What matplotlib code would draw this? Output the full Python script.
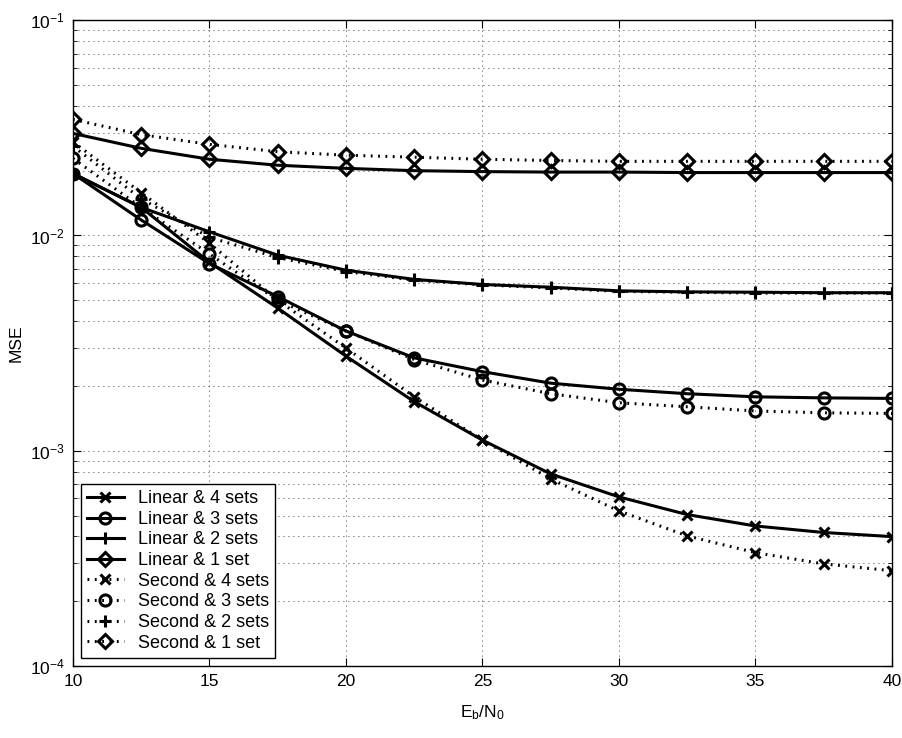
import matplotlib
matplotlib.use('Agg')

import matplotlib.pyplot as plt
from matplotlib.ticker import LogLocator, NullFormatter

plt.rcParams['font.family'] = ['Liberation Sans', 'DejaVu Sans']

# Eb/N0 (dB)
ebn0 = [10, 12.5, 15, 17.5, 20, 22.5, 25, 27.5, 30, 32.5, 35, 37.5, 40]

# MSE
linear_4 = [0.0194, 0.0135, 0.0075, 0.0046, 0.00275, 0.00169, 0.00112, 0.00078,
            0.00061, 0.000505, 0.000447, 0.000417, 0.000399]
linear_3 = [0.0194, 0.0118, 0.0074, 0.0052, 0.0036, 0.0027, 0.00233, 0.00206,
            0.00193, 0.00184, 0.00178, 0.00176, 0.00175]
linear_2 = [0.0194, 0.0135, 0.0104, 0.0081, 0.0069, 0.00625, 0.00592, 0.00575,
            0.00553, 0.00547, 0.00545, 0.00542, 0.00542]
linear_1 = [0.0298, 0.0254, 0.0226, 0.0212, 0.0205, 0.0200, 0.0198, 0.0197,
            0.0197, 0.0196, 0.0196, 0.0196, 0.0196]
second_4 = [0.0272, 0.0158, 0.0092, 0.0050, 0.0030, 0.00178, 0.00112, 0.00074,
            0.000525, 0.000402, 0.000336, 0.000298, 0.000277]
second_3 = [0.0228, 0.0135, 0.0082, 0.0050, 0.0036, 0.00265, 0.00213, 0.00184,
            0.00167, 0.00160, 0.00153, 0.00150, 0.00149]
second_2 = [0.026, 0.0148, 0.0098, 0.0079, 0.0068, 0.0062, 0.0059, 0.0057,
            0.0055, 0.00545, 0.0054, 0.0054, 0.0054]
second_1 = [0.0346, 0.0294, 0.0265, 0.0245, 0.0236, 0.0231, 0.0226, 0.0223,
            0.0221, 0.0221, 0.0221, 0.0221, 0.0221]

labels = ['Linear & 4 sets', 'Linear & 3 sets', 'Linear & 2 sets', 'Linear & 1 set',
          'Second & 4 sets', 'Second & 3 sets', 'Second & 2 sets', 'Second & 1 set']

fig = plt.figure(figsize=(9.03, 7.38), dpi=100)
ax = fig.add_axes([0.0808, 0.0976, 0.907, 0.875])

dotted = (0, (0.6, 1.8))
series = [
    (linear_4, 'x', '-'), (linear_3, 'o', '-'), (linear_2, '+', '-'), (linear_1, 'D', '-'),
    (second_4, 'x', dotted), (second_3, 'o', dotted), (second_2, '+', dotted), (second_1, 'D', dotted),
]
for (vals, mk, ls), lab in zip(series, labels):
    ms = {'x': 6.5, 'o': 8, '+': 9, 'D': 7.5}[mk]
    ax.semilogy(ebn0, vals, color='black', linestyle=ls, linewidth=2.2,
                marker=mk, markersize=ms, markeredgewidth=2.2,
                markerfacecolor='none', markeredgecolor='black', label=lab)

ax.set_xlim(10, 40)
ax.set_ylim(1e-4, 1e-1)
ax.set_xticks([10, 15, 20, 25, 30, 35, 40])
ax.yaxis.set_minor_locator(LogLocator(base=10, subs=range(2, 10)))
ax.yaxis.set_minor_formatter(NullFormatter())

ax.grid(True, which='major', axis='both', linestyle=(0, (1, 5)), color='black', linewidth=0.6)
ax.grid(True, which='minor', axis='y', linestyle=(0, (1, 5)), color='black', linewidth=0.6)
ax.tick_params(which='both', direction='in', top=True, right=True, labelsize=12.5)
ax.tick_params(which='major', length=6, pad=6)
ax.tick_params(which='minor', length=3)
for sp in ax.spines.values():
    sp.set_linewidth(1.0)

ax.set_xlabel('$\\mathregular{E_b/N_0}$', fontsize=12.5, labelpad=10)
ax.set_ylabel('MSE', fontsize=12.5, labelpad=4)

leg = ax.legend(loc='lower left', fontsize=13, fancybox=False, framealpha=1,
                edgecolor='black', handlelength=2.0, borderaxespad=0.45,
                labelspacing=0.2, borderpad=0.35)
leg.get_frame().set_linewidth(1.0)

fig.savefig('out.png', dpi=100)
